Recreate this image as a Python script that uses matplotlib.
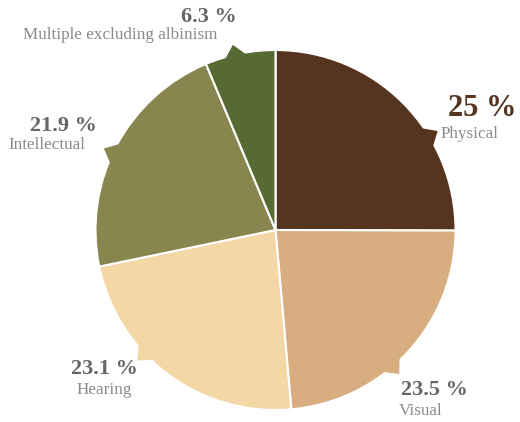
import numpy as np
import matplotlib
matplotlib.use("Agg")
import matplotlib.pyplot as plt

# data
categories = ["Physical", "Visual", "Hearing", "Intellectual", "Multiple excluding albinism"]
values = [25, 23.5, 23.1, 21.9, 6.3]
pct_labels = ["25 %", "23.5 %", "23.1 %", "21.9 %", "6.3 %"]
colors = ["#563520", "#d8ae80", "#f3d7a5", "#88864e", "#556b33"]

W, H = 520, 422
CX, CY, R = 275.5, 230, 180

def px(x, y):
    # pixel coords (y from top) -> data coords
    return x, H - y

# label placement (pixel centres)
pct_pos = [(482, 108), (434, 390), (104, 369), (63, 126), (209, 17)]
name_pos = [(470, 134), (421, 411), (104, 390), (47, 145), (120, 35)]
# where the little pointer sits inside each wedge (fraction of its arc)
tail_frac = [0.65, 0.58, 0.62, 0.47, 0.43]

plt.rcParams["font.family"] = ["Liberation Serif", "DejaVu Serif"]

fig = plt.figure(figsize=(W / 100, H / 100), dpi=100)
ax = fig.add_axes([0, 0, 1, 1])

wedges, _ = ax.pie(values, colors=colors, startangle=90, counterclock=False,
                   radius=R, center=px(CX, CY),
                   wedgeprops=dict(edgecolor="white", linewidth=1.5))

# pointer tails
cx, cy = px(CX, CY)
for w, f in zip(wedges, tail_frac):
    a = np.deg2rad(w.theta2 - f * (w.theta2 - w.theta1))
    d = np.deg2rad(3.5)
    xs = [cx + (R - 2) * np.cos(a - d), cx + (R + 10) * np.cos(a), cx + (R - 2) * np.cos(a + d)]
    ys = [cy + (R - 2) * np.sin(a - d), cy + (R + 10) * np.sin(a), cy + (R - 2) * np.sin(a + d)]
    ax.fill(xs, ys, color=w.get_facecolor(), lw=0, zorder=3)

for i, (p, n) in enumerate(zip(pct_labels, categories)):
    big = i == 0
    ax.text(*px(*pct_pos[i]), p, ha="center", va="center",
            fontsize=22 if big else 16, fontweight="bold",
            color=colors[0] if big else "#666666")
    ax.text(*px(*name_pos[i]), n, ha="center", va="center",
            fontsize=12.3, color="#8a8a8a")

ax.set_xlim(0, W)
ax.set_ylim(0, H)
ax.set_aspect("equal")
ax.axis("off")

fig.savefig("out.png", dpi=100)
